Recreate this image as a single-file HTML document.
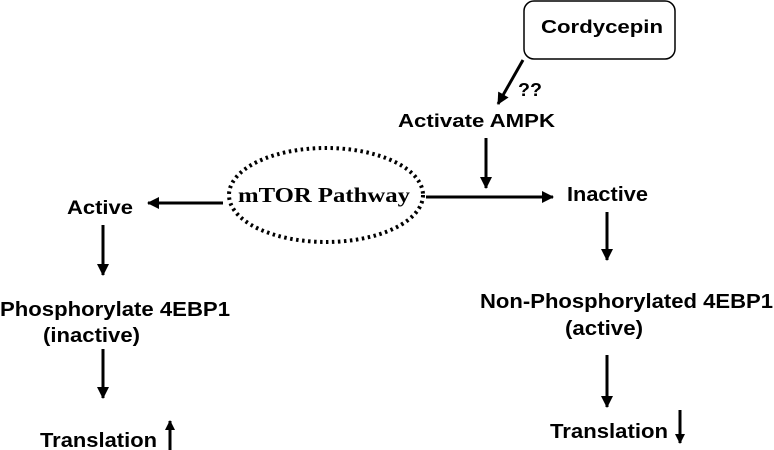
<!DOCTYPE html>
<html><head><meta charset="utf-8"><style>html,body{margin:0;padding:0;background:#fff}svg{display:block}</style></head><body>
<svg width="774" height="450" viewBox="0 0 774 450" xmlns="http://www.w3.org/2000/svg">
<defs><marker id="a" markerWidth="10" markerHeight="10" refX="9" refY="5" orient="auto" markerUnits="userSpaceOnUse"><path d="M0,0 L10,5 L0,10 z" fill="#000"/></marker>
<marker id="b" markerWidth="12" markerHeight="12" refX="11" refY="6" orient="auto" markerUnits="userSpaceOnUse"><path d="M0,0 L12,6 L0,12 z" fill="#000"/></marker></defs>
<g font-family="Liberation Sans, sans-serif" font-weight="bold" font-size="18" fill="#000">
<rect x="524" y="1" width="151" height="58" rx="10" fill="none" stroke="#000" stroke-width="1.5"/>
<text x="541" y="33" textLength="122" lengthAdjust="spacingAndGlyphs">Cordycepin</text>
<text x="518" y="96" textLength="24" lengthAdjust="spacingAndGlyphs">??</text>
<text x="398" y="127" textLength="157" lengthAdjust="spacingAndGlyphs">Activate AMPK</text>
<text x="567" y="201" font-size="20" textLength="81" lengthAdjust="spacingAndGlyphs">Inactive</text>
<text x="67" y="214" font-size="19" textLength="66" lengthAdjust="spacingAndGlyphs">Active</text>
</g>
<g font-family="Liberation Sans, sans-serif" font-weight="bold" font-size="20" fill="#000">
<text x="0" y="316" textLength="230" lengthAdjust="spacingAndGlyphs">Phosphorylate 4EBP1</text>
<text x="43" y="342" textLength="97" lengthAdjust="spacingAndGlyphs">(inactive)</text>
<text x="40" y="447" textLength="117" lengthAdjust="spacingAndGlyphs">Translation</text>
<text x="480" y="308" textLength="293" lengthAdjust="spacingAndGlyphs">Non-Phosphorylated 4EBP1</text>
<text x="565" y="335" textLength="78" lengthAdjust="spacingAndGlyphs">(active)</text>
<text x="550" y="438" textLength="118" lengthAdjust="spacingAndGlyphs">Translation</text>
</g>
<ellipse cx="326" cy="195" rx="97" ry="47" fill="none" stroke="#000" stroke-width="4" stroke-dasharray="2.5 3.5"/>
<text x="238" y="202" font-family="Liberation Serif, serif" font-weight="bold" font-size="21" textLength="172" lengthAdjust="spacingAndGlyphs">mTOR Pathway</text>
<g stroke="#000" stroke-width="3" fill="none">
<line x1="523" y1="60" x2="498" y2="104" marker-end="url(#b)"/>
<line x1="486" y1="138" x2="486" y2="188" marker-end="url(#b)"/>
<line x1="223" y1="203" x2="148" y2="203" marker-end="url(#b)"/>
<line x1="426" y1="197" x2="553" y2="197" marker-end="url(#b)"/>
<line x1="607" y1="212" x2="607" y2="260" marker-end="url(#b)"/>
<line x1="103" y1="225" x2="103" y2="275" marker-end="url(#b)"/>
<line x1="103" y1="349" x2="103" y2="398" marker-end="url(#b)"/>
<line x1="607" y1="355" x2="607" y2="407" marker-end="url(#b)"/>
<line x1="170" y1="450" x2="170" y2="421" marker-end="url(#a)"/>
<line x1="680" y1="410" x2="680" y2="443" marker-end="url(#a)"/>
</g>
</svg>
</body></html>
